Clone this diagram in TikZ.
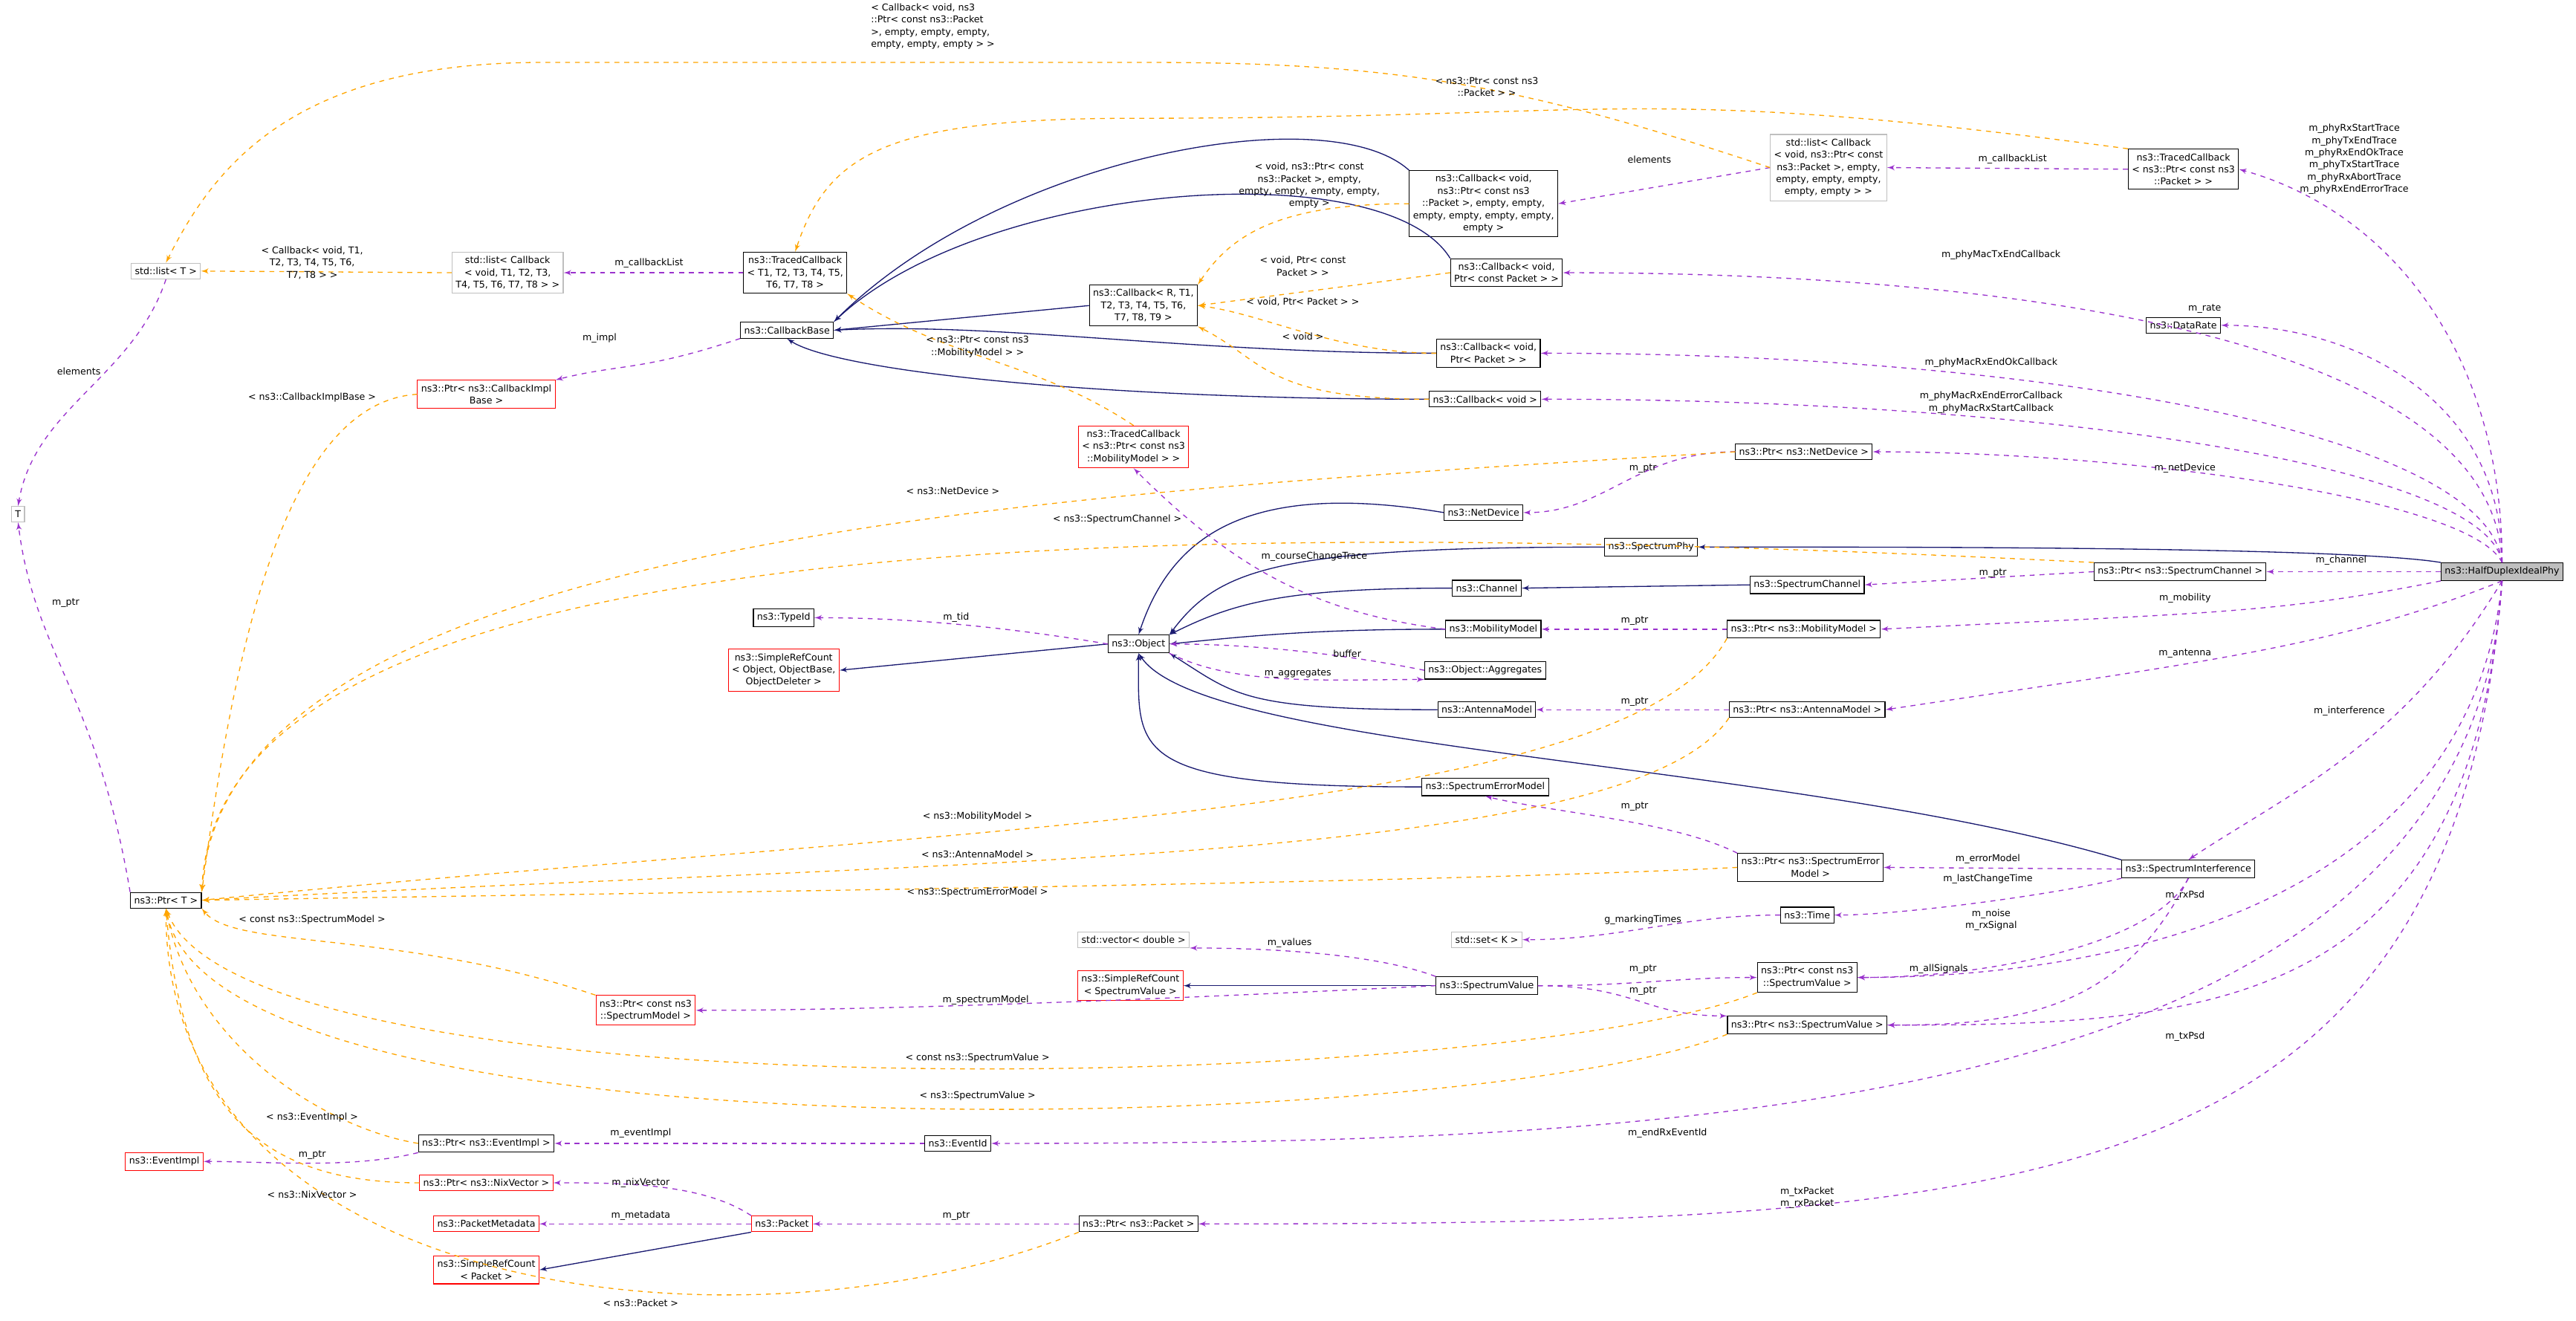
\documentclass[tikz,border=0pt]{standalone}
\usepackage{fontspec}
\setmainfont{DejaVu Sans}
\usepackage{tikz}
\usetikzlibrary{arrows,calc,positioning,shapes}
\definecolor{inhblue}{RGB}{25,25,112}
\definecolor{usepurple}{RGB}{154,50,205}
\definecolor{tmplorange}{RGB}{255,165,0}
\newcommand{\dxfont}{\fontsize{5.7}{7.4}\selectfont}

\begin{document}
\begin{tikzpicture}[x=1pt,y=-1pt,>=latex']
\tikzstyle{cls} = [draw, rectangle, inner xsep=2.2pt, inner ysep=2.6pt, align=center, font=\dxfont, line width=0.5pt]
\tikzstyle{gcls} = [cls, draw=black!25]
\tikzstyle{rcls} = [cls, draw=red]
\tikzstyle{lbl} = [inner sep=0pt, align=center, font=\dxfont]
\tikzstyle{inh} = [->, inhblue, line width=0.6pt]
\tikzstyle{use} = [->, usepurple, dashed, line width=0.6pt]
\tikzstyle{tmpl} = [->, tmplorange, dashed, line width=0.6pt]

\useasboundingbox (0,0) rectangle (1568,804);

% classes
\node [cls, fill=black!25] (hdip) at (1523,348) {ns3::HalfDuplexIdealPhy};
\node [cls] (tcPkt) at (1329,103) {ns3::TracedCallback\\< ns3::Ptr< const ns3\\::Packet > >};
\node [gcls] (lstCbPkt) at (1113,102) {std::list< Callback\\< void, ns3::Ptr< const\\ns3::Packet >, empty,\\empty, empty, empty,\\empty, empty > >};
\node [cls] (cbPktFull) at (903,124) {ns3::Callback< void,\\ns3::Ptr< const ns3\\::Packet >, empty, empty,\\empty, empty, empty, empty,\\empty >};
\node [cls] (cbConstPkt) at (917,166) {ns3::Callback< void,\\Ptr< const Packet > >};
\node [cls] (dataRate) at (1329,198) {ns3::DataRate};
\node [cls] (cbPkt) at (906,215) {ns3::Callback< void,\\Ptr< Packet > >};
\node [cls] (cbVoid) at (904,243) {ns3::Callback< void >};
\node [cls] (ptrNetDev) at (1098,275) {ns3::Ptr< ns3::NetDevice >};
\node [cls] (netDev) at (903,312) {ns3::NetDevice};
\node [cls] (specPhy) at (1005,333) {ns3::SpectrumPhy};
\node [cls] (ptrSpecChan) at (1327,348) {ns3::Ptr< ns3::SpectrumChannel >};
\node [cls] (channel) at (905,358) {ns3::Channel};
\node [cls] (specChan) at (1100,356) {ns3::SpectrumChannel};
\node [cls] (mobModel) at (909,383) {ns3::MobilityModel};
\node [cls] (ptrMob) at (1098,383) {ns3::Ptr< ns3::MobilityModel >};
\node [cls] (aggr) at (904,408) {ns3::Object::Aggregates};
\node [cls] (antModel) at (905,432) {ns3::AntennaModel};
\node [cls] (ptrAnt) at (1100,432) {ns3::Ptr< ns3::AntennaModel >};
\node [cls] (errModel) at (904,479) {ns3::SpectrumErrorModel};
\node [cls] (ptrErr) at (1102,528) {ns3::Ptr< ns3::SpectrumError\\Model >};
\node [cls] (specIntf) at (1332,529) {ns3::SpectrumInterference};
\node [cls] (time) at (1100,557) {ns3::Time};
\node [gcls] (setK) at (905,572) {std::set< K >};
\node [gcls] (vecD) at (690,572) {std::vector< double >};
\node [cls] (ptrCSV) at (1100,595) {ns3::Ptr< const ns3\\::SpectrumValue >};
\node [cls] (specVal) at (905,600) {ns3::SpectrumValue};
\node [rcls] (srcSV) at (688,600) {ns3::SimpleRefCount\\< SpectrumValue >};
\node [cls] (ptrSV) at (1100,624) {ns3::Ptr< ns3::SpectrumValue >};
\node [rcls] (ptrCSM) at (393,615) {ns3::Ptr< const ns3\\::SpectrumModel >};
\node [cls] (eventId) at (583,696) {ns3::EventId};
\node [cls] (ptrEvImpl) at (296,696) {ns3::Ptr< ns3::EventImpl >};
\node [rcls] (evImpl) at (100,707) {ns3::EventImpl};
\node [rcls] (ptrNix) at (296,720) {ns3::Ptr< ns3::NixVector >};
\node [rcls] (pktMeta) at (296,745) {ns3::PacketMetadata};
\node [rcls] (packet) at (476,745) {ns3::Packet};
\node [cls] (ptrPkt) at (693,745) {ns3::Ptr< ns3::Packet >};
\node [rcls] (srcPkt) at (296,773) {ns3::SimpleRefCount\\< Packet >};
\node [cls] (ptrT) at (101,548) {ns3::Ptr< T >};
\node [gcls] (T) at (11,313) {T};
\node [gcls] (lstT) at (101,165) {std::list< T >};
\node [gcls] (lstCbT) at (309,166) {std::list< Callback\\< void, T1, T2, T3,\\T4, T5, T6, T7, T8 > >};
\node [cls] (tcT) at (484,166) {ns3::TracedCallback\\< T1, T2, T3, T4, T5,\\T6, T7, T8 >};
\node [cls] (cbBase) at (479,201) {ns3::CallbackBase};
\node [rcls] (ptrCbImpl) at (296,240) {ns3::Ptr< ns3::CallbackImpl\\Base >};
\node [cls] (cbR) at (696,186) {ns3::Callback< R, T1,\\T2, T3, T4, T5, T6,\\T7, T8, T9 >};
\node [rcls] (tcMob) at (690,272) {ns3::TracedCallback\\< ns3::Ptr< const ns3\\::MobilityModel > >};
\node [cls] (typeId) at (477,376) {ns3::TypeId};
\node [rcls] (srcObj) at (477,408) {ns3::SimpleRefCount\\< Object, ObjectBase,\\ObjectDeleter >};
\node [cls] (object) at (693,392) {ns3::Object};

\coordinate (cTopR) at (700,38);
\coordinate (cTopL) at (330,38);
\coordinate (cTcTop) at (690,72);

% inheritance
\draw [inh] (hdip.north west) .. controls +(-60,-10) and +(100,0) .. (specPhy.east);
\draw [inh] (specPhy.west) .. controls +(-200,0) and +(30,-40) .. (object.north east);
\draw [inh] (netDev.west) .. controls +(-120,-20) and +(20,-60) .. (object.north);
\draw [inh] (channel.west) .. controls +(-100,0) and +(40,-20) .. (object.north east);
\draw [inh] (specChan.west) -- (channel.east);
\draw [inh] (mobModel.west) .. controls +(-80,0) and +(50,-5) .. (object.east);
\draw [inh] (antModel.west) .. controls +(-120,0) and +(40,25) .. (object.south east);
\draw [inh] (errModel.west) .. controls +(-180,0) and +(0,60) .. (object.south);
\draw [inh] (specIntf.north west) .. controls +(-200,-60) and +(40,60) .. (object.south);
\draw [inh] (object.west) -- (srcObj.east);
\draw [inh] (specVal.west) -- (srcSV.east);
\draw [inh] (packet.south west) -- (srcPkt.east);
\draw [inh] (cbPktFull.north west) .. controls +(-50,-45) and +(100,-100) .. (cbBase.north east);
\draw [inh] (cbConstPkt.north west) .. controls +(-40,-65) and +(90,-85) .. (cbBase.north east);
\draw [inh] (cbR.west) -- (cbBase.east);
\draw [inh] (cbPkt.west) .. controls +(-150,0) and +(100,-5) .. (cbBase.east);
\draw [inh] (cbVoid.west) .. controls +(-200,0) and +(30,20) .. (cbBase.south);

% members
\draw [use] (hdip.north) .. controls +(0,-130) and +(90,25) .. (tcPkt.east);
\draw [use] (hdip.north) .. controls +(-5,-130) and +(300,0) .. (cbConstPkt.east);
\draw [use] (hdip.north) .. controls +(0,-100) and +(80,0) .. (dataRate.east);
\draw [use] (hdip.north) .. controls +(-10,-80) and +(300,0) .. (cbPkt.east);
\draw [use] (hdip.north) .. controls +(-10,-60) and +(300,0) .. (cbVoid.east);
\draw [use] (hdip.north) .. controls +(-20,-40) and +(150,0) .. (ptrNetDev.east);
\draw [use] (hdip.west) -- (ptrSpecChan.east);
\draw [use] (hdip.south west) .. controls +(-100,20) and +(200,-10) .. (ptrMob.east);
\draw [use] (hdip.south) .. controls +(-100,40) and +(200,-30) .. (ptrAnt.east);
\draw [use] (hdip.south) .. controls +(-60,100) and +(60,-40) .. (specIntf.north);
\draw [use] (hdip.south) .. controls +(-20,200) and +(150,0) .. (ptrCSV.east);
\draw [use] (hdip.south) .. controls +(-20,260) and +(200,0) .. (ptrSV.east);
\draw [use] (hdip.south) .. controls +(-20,330) and +(400,0) .. (eventId.east);
\draw [use] (hdip.south) .. controls +(-30,380) and +(500,0) .. (ptrPkt.east);
\draw [use] (tcPkt.west) -- (lstCbPkt.east);
\draw [use] (lstCbPkt.west) -- (cbPktFull.east);
\draw [use] (ptrNetDev.west) .. controls +(-60,0) and +(50,0) .. (netDev.east);
\draw [use] (ptrSpecChan.west) -- (specChan.east);
\draw [use] (ptrMob.west) -- (mobModel.east);
\draw [use] (ptrAnt.west) -- (antModel.east);
\draw [use] (ptrErr.north west) .. controls +(-40,-20) and +(40,10) .. (errModel.south);
\draw [use] (specIntf.west) -- (ptrErr.east);
\draw [use] (specIntf.south west) .. controls +(-40,10) and +(40,0) .. (time.east);
\draw [use] (time.west) .. controls +(-60,0) and +(60,0) .. (setK.east);
\draw [use] (specIntf.south) .. controls +(-20,40) and +(80,0) .. (ptrCSV.east);
\draw [use] (specIntf.south) .. controls +(-40,80) and +(80,0) .. (ptrSV.east);
\draw [use] (specVal.east) .. controls +(60,0) and +(-50,0) .. (ptrCSV.west);
\draw [use] (specVal.east) .. controls +(60,0) and +(-50,0) .. (ptrSV.north west);
\draw [use] (specVal.north west) .. controls +(-40,-15) and +(40,0) .. (vecD.south east);
\draw [use] (specVal.west) .. controls +(-200,10) and +(100,0) .. (ptrCSM.east);
\draw [use] (eventId.west) -- (ptrEvImpl.east);
\draw [use] (ptrEvImpl.south west) .. controls +(-40,10) and +(40,0) .. (evImpl.east);
\draw [use] (packet.north west) .. controls +(-30,-20) and +(40,0) .. (ptrNix.east);
\draw [use] (packet.west) -- (pktMeta.east);
\draw [use] (ptrPkt.west) -- (packet.east);
\draw [use] (object.west) .. controls +(-60,-10) and +(60,0) .. (typeId.east);
\draw [use] (aggr.west) .. controls +(-60,-12) and +(40,0) .. (object.east);
\draw [use] (object.south east) .. controls +(40,20) and +(-60,0) .. (aggr.south west);
\draw [use] (mobModel.west) .. controls +(-80,-10) and +(60,60) .. (tcMob.south);
\draw [use] (cbBase.south west) .. controls +(-60,20) and +(40,-10) .. (ptrCbImpl.north east);
\draw [use] (tcT.west) -- (lstCbT.east);
\draw [use] (lstT.south) .. controls +(-20,60) and +(10,-60) .. (T.north);
\draw [use] (ptrT.north west) .. controls +(-20,-120) and +(10,80) .. (T.south);

% template instances
\draw [tmpl] (lstCbPkt.west) .. controls +(-150,-50) and +(150,0) .. (cTopR) -- (cTopL) .. controls +(-150,0) and +(30,-60) .. (lstT.north);
\draw [tmpl] (tcPkt.north west) .. controls +(-300,-40) and +(300,0) .. (cTcTop) .. controls +(-150,0) and +(20,-60) .. (tcT.north);
\draw [tmpl] (cbPktFull.west) .. controls +(-80,0) and +(20,-30) .. (cbR.north east);
\draw [tmpl] (cbConstPkt.west) -- (cbR.east);
\draw [tmpl] (cbPkt.west) .. controls +(-60,0) and +(40,5) .. (cbR.east);
\draw [tmpl] (cbVoid.west) .. controls +(-100,0) and +(40,20) .. (cbR.south east);
\draw [tmpl] (lstCbT.west) -- (lstT.east);
\draw [tmpl] (ptrCbImpl.west) .. controls +(-80,5) and +(20,-150) .. (ptrT.north east);
\draw [tmpl] (tcMob.north) .. controls +(-60,-40) and +(60,40) .. (tcT.south east);
\draw [tmpl] (ptrNetDev.west) .. controls +(-400,25) and +(15,-220) .. (ptrT.north east);
\draw [tmpl] (ptrSpecChan.north west) .. controls +(-600,-30) and +(10,-220) .. (ptrT.north east);
\draw [tmpl] (ptrMob.south west) .. controls +(-60,110) and +(450,-45) .. (ptrT.east);
\draw [tmpl] (ptrAnt.south west) .. controls +(-60,90) and +(450,-25) .. (ptrT.east);
\draw [tmpl] (ptrErr.west) .. controls +(-200,10) and +(300,-5) .. (ptrT.east);
\draw [tmpl] (ptrCSM.north west) .. controls +(-120,-40) and +(20,25) .. (ptrT.south east);
\draw [tmpl] (ptrCSV.south west) .. controls +(-150,60) and +(50,130) .. (ptrT.south);
\draw [tmpl] (ptrSV.south west) .. controls +(-150,60) and +(30,160) .. (ptrT.south);
\draw [tmpl] (ptrEvImpl.west) .. controls +(-60,-10) and +(15,80) .. (ptrT.south);
\draw [tmpl] (ptrNix.west) .. controls +(-100,0) and +(10,120) .. (ptrT.south);
\draw [tmpl] (ptrPkt.south west) .. controls +(-200,80) and +(0,240) .. (ptrT.south);

% edge labels
\node [lbl] (lTrace) at (1433,97) {m\_phyRxStartTrace\\m\_phyTxEndTrace\\m\_phyRxEndOkTrace\\m\_phyTxStartTrace\\m\_phyRxAbortTrace\\m\_phyRxEndErrorTrace};
\node [lbl] (lTxEnd) at (1218,155) {m\_phyMacTxEndCallback};
\node [lbl] (lRate) at (1342,188) {m\_rate};
\node [lbl] (lRxOk) at (1212,221) {m\_phyMacRxEndOkCallback};
\node [lbl] (lRxErr) at (1212,245) {m\_phyMacRxEndErrorCallback\\m\_phyMacRxStartCallback};
\node [lbl] (lNetDev) at (1330,285) {m\_netDevice};
\node [lbl] (lChannel) at (1425,341) {m\_channel};
\node [lbl] (lMob) at (1330,364) {m\_mobility};
\node [lbl] (lAnt) at (1330,398) {m\_antenna};
\node [lbl] (lIntf) at (1430,433) {m\_interference};
\node [lbl] (lRxPsd) at (1330,545) {m\_rxPsd};
\node [lbl] (lTxPsd) at (1330,631) {m\_txPsd};
\node [lbl] (lEvId) at (1015,690) {m\_endRxEventId};
\node [lbl] (lPkts) at (1100,729) {m\_txPacket\\m\_rxPacket};
\node [lbl] (lCbList) at (1225,97) {m\_callbackList};
\node [lbl] (lElem) at (1004,97) {elements};
\node [lbl] (lPtrNd) at (1000,285) {m\_ptr};
\node [lbl] (lPtrSc) at (1213,349) {m\_ptr};
\node [lbl] (lPtrMm) at (995,378) {m\_ptr};
\node [lbl] (lPtrAm) at (995,427) {m\_ptr};
\node [lbl] (lPtrEm) at (995,491) {m\_ptr};
\node [lbl] (lErrM) at (1210,523) {m\_errorModel};
\node [lbl] (lLast) at (1210,535) {m\_lastChangeTime};
\node [lbl] (lMark) at (1000,560) {g\_markingTimes};
\node [lbl] (lNoise) at (1212,560) {m\_noise\\m\_rxSignal};
\node [lbl] (lAll) at (1180,590) {m\_allSignals};
\node [lbl] (lPtrSv1) at (1000,590) {m\_ptr};
\node [lbl] (lPtrSv2) at (1000,603) {m\_ptr};
\node [lbl] (lValues) at (785,574) {m\_values};
\node [lbl] (lSpecM) at (600,609) {m\_spectrumModel};
\node [lbl] (lEvImpl) at (390,690) {m\_eventImpl};
\node [lbl] (lPtrEv) at (190,703) {m\_ptr};
\node [lbl] (lNix) at (390,720) {m\_nixVector};
\node [lbl] (lMeta) at (390,740) {m\_metadata};
\node [lbl] (lPtrPk) at (582,740) {m\_ptr};
\node [lbl] (lTid) at (582,376) {m\_tid};
\node [lbl] (lBuf) at (820,398) {buffer};
\node [lbl] (lAggr) at (790,410) {m\_aggregates};
\node [lbl] (lCourse) at (800,339) {m\_courseChangeTrace};
\node [lbl] (lImpl) at (365,206) {m\_impl};
\node [lbl] (lPtrT) at (40,367) {m\_ptr};
\node [lbl] (lElemT) at (48,226) {elements};
\node [lbl] (lCbListT) at (395,160) {m\_callbackList};
\node [lbl, align=left, anchor=north west] (lTopTmpl) at (530,2) {< Callback< void, ns3\\::Ptr< const ns3::Packet\\>, empty, empty, empty,\\empty, empty, empty > >};
\node [lbl] (lTcPkt) at (905,53) {< ns3::Ptr< const ns3\\::Packet > >};
\node [lbl] (lCbFull) at (797,113) {< void, ns3::Ptr< const\\ns3::Packet >, empty,\\empty, empty, empty, empty,\\empty >};
\node [lbl] (lCbConst) at (793,162) {< void, Ptr< const\\Packet > >};
\node [lbl] (lCbPkt) at (793,184) {< void, Ptr< Packet > >};
\node [lbl] (lCbVoid) at (793,205) {< void >};
\node [lbl] (lLstCbT) at (190,160) {< Callback< void, T1,\\T2, T3, T4, T5, T6,\\T7, T8 > >};
\node [lbl] (lCbImpl) at (190,242) {< ns3::CallbackImplBase >};
\node [lbl] (lTcMob) at (595,211) {< ns3::Ptr< const ns3\\::MobilityModel > >};
\node [lbl] (lNd) at (580,299) {< ns3::NetDevice >};
\node [lbl] (lSc) at (680,316) {< ns3::SpectrumChannel >};
\node [lbl] (lMm) at (595,497) {< ns3::MobilityModel >};
\node [lbl] (lAm) at (595,520) {< ns3::AntennaModel >};
\node [lbl] (lEm) at (595,543) {< ns3::SpectrumErrorModel >};
\node [lbl] (lCsm) at (190,560) {< const ns3::SpectrumModel >};
\node [lbl] (lCsv) at (595,644) {< const ns3::SpectrumValue >};
\node [lbl] (lSv) at (595,667) {< ns3::SpectrumValue >};
\node [lbl] (lEi) at (190,680) {< ns3::EventImpl >};
\node [lbl] (lNv) at (190,727) {< ns3::NixVector >};
\node [lbl] (lPk) at (390,793) {< ns3::Packet >};
\end{tikzpicture}
\end{document}
